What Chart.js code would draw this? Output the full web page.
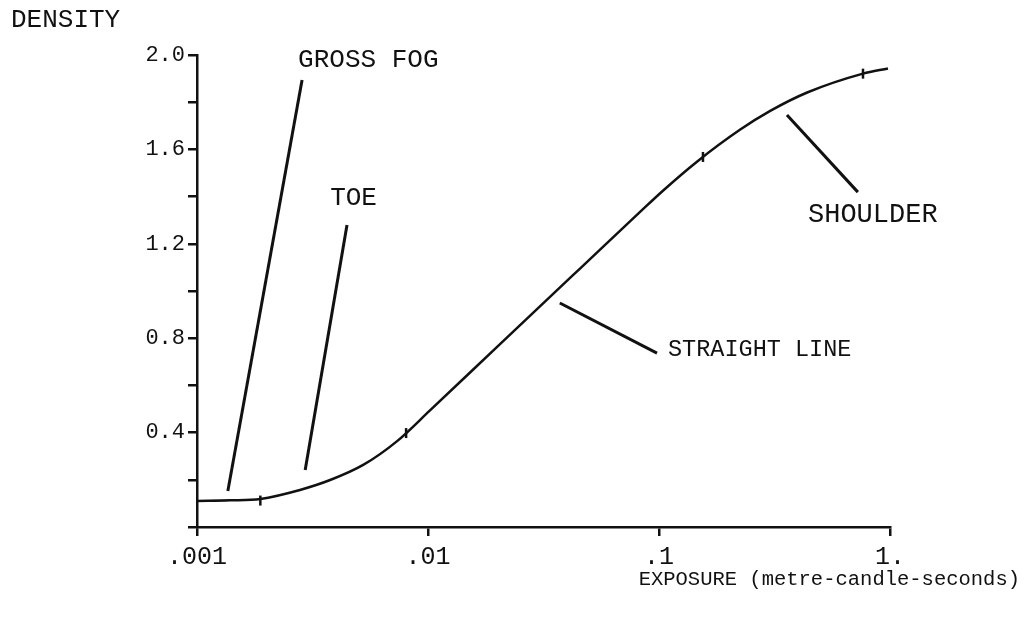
<!DOCTYPE html>
<html>
<head>
<meta charset="utf-8">
<script src="https://cdn.jsdelivr.net/npm/chart.js@4.4.0/dist/chart.umd.min.js"></script>
<style>
  html, body { margin: 0; padding: 0; background: #fff; }
</style>
</head>
<body>
<canvas id="chartKurva" width="1024" height="619"></canvas>
<script>
// characteristic curve: exposure (metre-candle-seconds) vs density
const exposure = [0.001, 0.00139, 0.00188, 0.00279, 0.00377, 0.00524, 0.00735, 0.0102,
  0.0205, 0.0455, 0.0828, 0.104, 0.146, 0.224, 0.303, 0.438, 0.764, 0.98];
const density = [0.110, 0.113, 0.119, 0.157, 0.199, 0.263, 0.364, 0.494,
  0.775, 1.095, 1.335, 1.425, 1.548, 1.683, 1.763, 1.841, 1.921, 1.943];

// small hand marks on the curve
const markX = [0.00188, 0.00804, 0.155, 0.764];
const markY = [0.112, 0.398, 1.568, 1.921];

// pointer lines to the labels (start, end)
const labelText = ['GROSS FOG', 'TOE', 'STRAIGHT LINE', 'SHOULDER'];
const pointerX = [[0.00136, 0.00285], [0.00294, 0.00446], [0.0372, 0.098], [0.358, 0.726]];
const pointerY = [[0.153, 1.894], [0.242, 1.280], [0.949, 0.737], [1.746, 1.419]];
const labelX = [0.00274, 0.00377, 0.1094, 0.4416];
const labelY = [1.949, 1.364, 0.725, 1.292];

const xTicks = [0.001, 0.01, 0.1, 1];
const xTickLabels = ['.001', '.01', '.1', '1.'];
const yLabelTicks = [0.4, 0.8, 1.2, 1.6, 2.0];

const fontMono = 'Liberation Mono';
const labelFontSize = [26, 26, 23.5, 27];

const datasets = [{
  data: exposure.map((x, i) => ({ x: x, y: density[i] })),
  borderColor: '#111',
  borderWidth: 2.5,
  pointRadius: 0,
  cubicInterpolationMode: 'monotone'
}, {
  data: markX.map((x, i) => ({ x: x, y: markY[i] })),
  showLine: false,
  pointStyle: 'line',
  rotation: 90,
  pointRadius: 5,
  borderWidth: 2.5,
  borderColor: '#111'
}];

pointerX.forEach((px, i) => {
  datasets.push({
    data: [{ x: px[0], y: pointerY[i][0] }, { x: px[1], y: pointerY[i][1] }],
    borderColor: '#111',
    borderWidth: 3,
    pointRadius: 0,
    tension: 0
  });
});

const teksLabel = {
  id: 'teksLabel',
  afterDraw(chart) {
    const c = chart.ctx;
    const sx = chart.scales.x, sy = chart.scales.y;
    c.save();
    c.fillStyle = '#111';
    c.textBaseline = 'alphabetic';
    labelText.forEach((t, i) => {
      c.font = labelFontSize[i] + 'px "' + fontMono + '"';
      c.fillText(t, sx.getPixelForValue(labelX[i]), sy.getPixelForValue(labelY[i]));
    });
    c.font = '26px "' + fontMono + '"';
    c.fillText('DENSITY', 11, 27);
    c.font = '20.5px "' + fontMono + '"';
    c.textAlign = 'right';
    c.fillText('EXPOSURE (metre-candle-seconds)', 1020, 585);
    c.restore();
  }
};

new Chart(document.getElementById('chartKurva').getContext('2d'), {
  type: 'line',
  data: { datasets: datasets },
  options: {
    responsive: false,
    animation: false,
    devicePixelRatio: 1,
    layout: { padding: { left: 0, top: 55, right: 134, bottom: 0 } },
    scales: {
      x: {
        type: 'logarithmic',
        min: 0.001,
        max: 1,
        afterBuildTicks: function(scale) {
          scale.ticks = xTicks.map(v => ({ value: v }));
        },
        afterFit: function(scale) { scale.height = 92; },
        ticks: {
          autoSkip: false,
          maxRotation: 0,
          padding: 6,
          color: '#111',
          font: { family: fontMono, size: 25 },
          callback: function(value) {
            const i = xTicks.indexOf(value);
            return i >= 0 ? xTickLabels[i] : '';
          }
        },
        grid: { drawOnChartArea: false, tickLength: 9, color: '#111', lineWidth: 2.5 },
        border: { display: true, color: '#111', width: 2.5 }
      },
      y: {
        min: 0,
        max: 2.0,
        afterFit: function(scale) { scale.width = 197; },
        ticks: {
          stepSize: 0.2,
          padding: 3,
          color: '#111',
          font: { family: fontMono, size: 22 },
          callback: function(value) {
            const v = Math.round(value * 10) / 10;
            return yLabelTicks.includes(v) ? v.toFixed(1) : '';
          }
        },
        grid: { drawOnChartArea: false, tickLength: 9, color: '#111', lineWidth: 2.5 },
        border: { display: true, color: '#111', width: 2.5 }
      }
    },
    plugins: {
      legend: { display: false },
      tooltip: { enabled: false }
    }
  },
  plugins: [teksLabel]
});
</script>
</body>
</html>
